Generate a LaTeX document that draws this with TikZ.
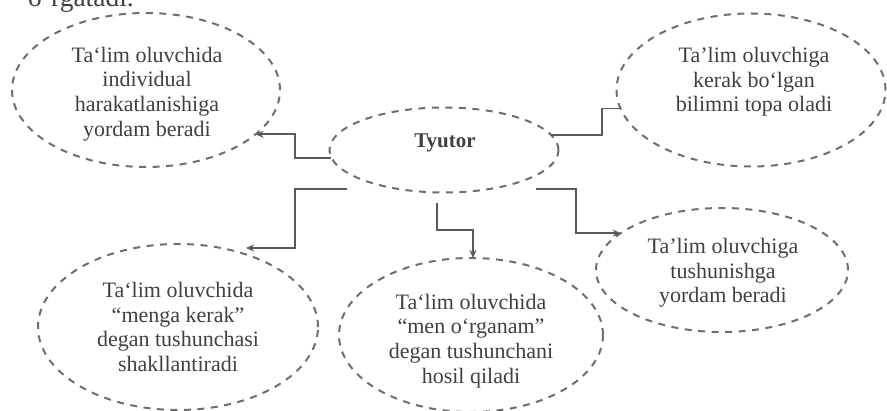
\documentclass[tikz,border=0pt]{standalone}
\usepackage{fontspec}
\setmainfont{Liberation Serif}
\usetikzlibrary{shapes.geometric,arrows.meta}
\definecolor{ink}{HTML}{404040}
\definecolor{dashc}{HTML}{6E6E6E}
\definecolor{linec}{HTML}{5A5A5A}
\tikzset{
  bub/.style={ellipse,draw=dashc,line width=2pt,dash pattern=on 7pt off 6.5pt,inner sep=0pt,outer sep=0pt},
  lab/.style={text=ink,align=center,font=\fontsize{22}{24.7}\selectfont},
  conn/.style={draw=linec,line width=1.6pt},
  arr/.style={conn,-{Stealth[length=8pt,width=7pt]}}
}
\begin{document}
\begin{tikzpicture}[x=1pt,y=-1pt]
\useasboundingbox (0,0) rectangle (887,411);
\clip (0,0) rectangle (887,411);
\node[font=\fontsize{27.5}{28}\selectfont,text=ink,anchor=base west,inner sep=0pt] (head) at (28,7) {o`rgatadi.};
\node[bub,minimum width=268pt,minimum height=154pt] (tl) at (146,90) {};
\node[lab] (tltext) at (147,94) {Ta`lim oluvchida\\individual\\harakatlanishiga\\yordam beradi};
\node[bub,minimum width=229pt,minimum height=85pt] (tut) at (444,150) {};
\node[lab,font=\fontsize{21}{24}\selectfont\bfseries] (tuttext) at (445,143) {Tyutor};
\node[bub,minimum width=269pt,minimum height=153pt] (tr) at (751,90) {};
\node[lab] (trtext) at (754,82) {Ta'lim oluvchiga\\kerak bo`lgan\\bilimni topa oladi};
\node[bub,minimum width=280pt,minimum height=166pt] (bl) at (178,327) {};
\node[lab] (bltext) at (178,327) {Ta`lim oluvchida\\“menga kerak”\\degan tushunchasi\\shakllantiradi};
\node[bub,minimum width=264pt,minimum height=154pt] (bm) at (471,335) {};
\node[lab] (bmtext) at (471,341) {Ta`lim oluvchida\\“men o`rganam”\\degan tushunchani\\hosil qiladi};
\node[bub,minimum width=252pt,minimum height=124pt] (br) at (722,270) {};
\node[lab] (brtext) at (723,273) {Ta'lim oluvchiga\\tushunishga\\yordam beradi};
\coordinate (m1) at (295,145);
\coordinate (m2) at (602,120);
\coordinate (s3) at (347,189);
\coordinate (m3) at (295,220);
\coordinate (e3) at (246,248);
\coordinate (s4) at (437,203);
\coordinate (m4) at (473,230);
\coordinate (s5) at (536,189);
\coordinate (m5) at (576,210);
\path[arr] (tut.184) -| (m1) |- (tl.-22);
\path[conn] (tut.8) -| (m2) |- (tr.188);
\path[arr] (s3) -| (m3) |- (e3);
\path[arr] (s4) |- (m4) -- (m4 |- bm.north);
\path[arr] (s5) -| (m5) |- (br.160);
\end{tikzpicture}
\end{document}
